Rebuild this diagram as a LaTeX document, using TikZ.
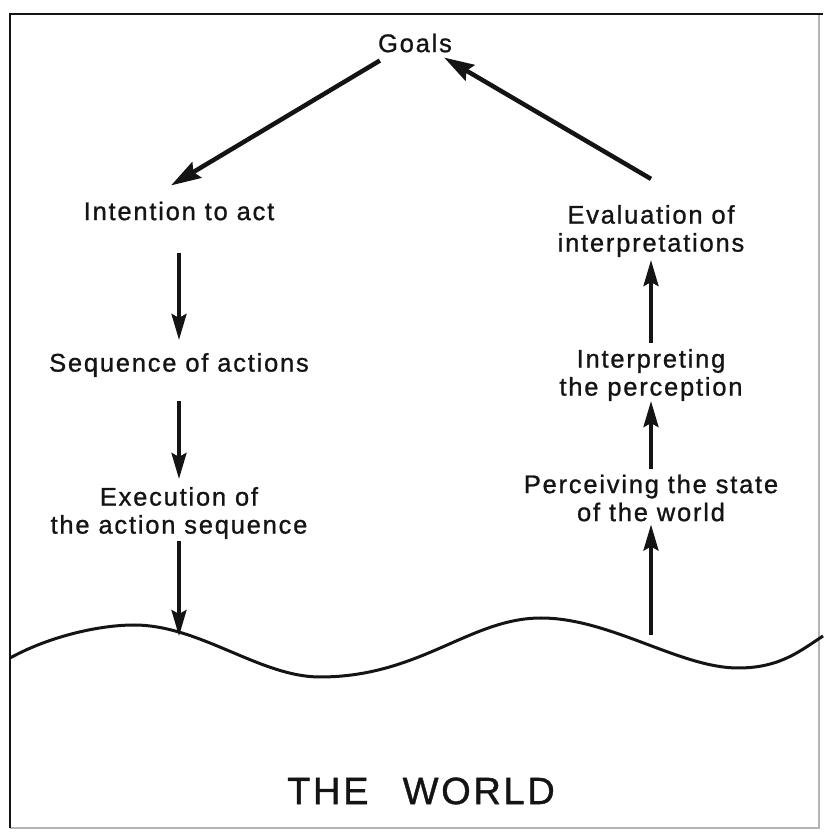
\documentclass[tikz,border=0pt]{standalone}
\usepackage{fontspec}
\setmainfont{Liberation Sans}[LetterSpace=7, FakeBold=1]
\usetikzlibrary{arrows.meta,positioning}
\definecolor{ink}{HTML}{141414}
\definecolor{rim}{HTML}{B4B4B4}

\begin{document}
\begin{tikzpicture}[x=1pt, y=1pt, every node/.style={font=\fontsize{25.5}{28}\selectfont, inner sep=0pt, text=ink}, lbl/.style={align=center}, flow/.style={draw=ink, line width=3.5pt, -{Stealth[length=26pt,width=15pt,inset=4pt]}}, bigflow/.style={flow, line width=4.5pt, -{Stealth[length=30pt,width=18pt,inset=4pt]}}]
\useasboundingbox (0,0) rectangle (823,836);
\draw[rim, line width=1.5pt] (819,822) -- (819,8) -- (10,8);
\draw[ink, line width=2pt] (10,8) -- (10,822) -- (823,822);
\node[lbl] (goals) at (415,793) {Goals};
\node[lbl] (intent) at (179,625) {Intention to act};
\node[lbl] (seq) at (179,471) {Sequence of actions};
\node[lbl] (exec) at (179,323) {Execution of\\the action sequence};
\node[lbl] (eval) at (651,605) {Evaluation of\\interpretations};
\node[lbl] (interp) at (651,461) {Interpreting\\the perception};
\node[lbl] (perceive) at (651,338) {Perceiving the state\\of the world};
\node[font=\fontsize{38}{44}\selectfont] (world) at (421,45) {THE\hspace{0.9em}WORLD};
% the surface of the world
\draw[ink, line width=3pt] (10,178) .. controls (50,200) and (100,211) .. (134,211) .. controls (200,211) and (260,159) .. (320,159) .. controls (420,159) and (470,218) .. (541,218) .. controls (610,218) and (680,168) .. (738,168) .. controls (780,168) and (800,185) .. (823,200);
\coordinate (hitL) at (179,200);
\coordinate (hitR) at (651,201);
\draw[bigflow] ([shift={(2,-8)}]goals.south west) -- ([shift={(-8,16)}]intent.north);
\draw[bigflow] ([yshift=26]eval.north) -- ([shift={(-8,-5)}]goals.south east);
\draw[flow, shorten <=32pt, shorten >=13pt] (intent) -- (seq);
\draw[flow, shorten <=24pt, shorten >=8pt] (seq) -- (exec);
\draw[flow, shorten <=2pt] (exec) -- (hitL);
\draw[flow, shorten >=3pt] (hitR) -- (perceive);
\draw[flow, shorten <=5pt] (perceive) -- (interp);
\draw[flow, shorten <=6pt, shorten >=3pt] (interp) -- (eval);
\end{tikzpicture}
\end{document}
